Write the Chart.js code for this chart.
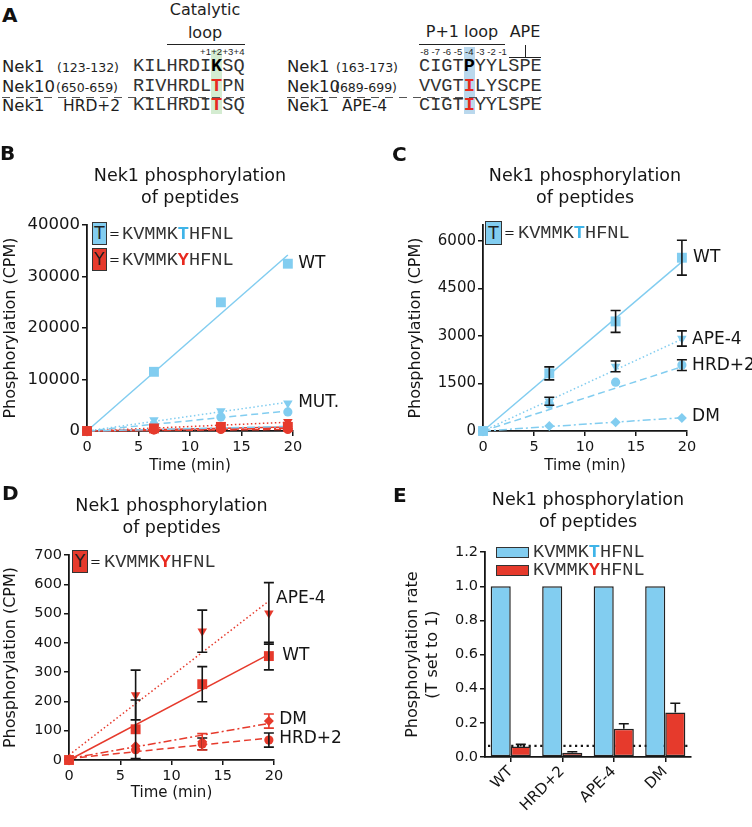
<!DOCTYPE html>
<html>
<head>
<meta charset="utf-8">
<script src="https://cdn.jsdelivr.net/npm/chart.js@4.4.1/dist/chart.umd.min.js"></script>
<style>
  html, body { margin: 0; padding: 0; background: #fff; }
  #page { position: relative; width: 752px; height: 827px; overflow: hidden;
          font-family: "DejaVu Sans", sans-serif; color: #1e1e1e; }
  #page canvas { position: absolute; }
  .t { position: absolute; white-space: nowrap; height: 24px; line-height: 24px; z-index: 2; }
  .c { transform: translateX(-50%); }
  .seq { font-family: "Liberation Mono", "Courier New", monospace; font-size: 18.6px; color: #333; }
  .seq b.k { color: #000; }
  .seq b.r { color: #e8291f; }
  .seq b.bl { color: #3fb4e8; }
  .tiny { font-family: "Liberation Sans", Arial, sans-serif; font-size: 9.5px; }
  .box { position: absolute; border: 1.2px solid #333; box-sizing: border-box; text-align: center;
         font-size: 17px; line-height: 21px; z-index: 2; }
  .rule { position: absolute; background: #222; z-index: 2; }
  .dash { position: absolute; height: 1.3px; z-index: 2;
          background: repeating-linear-gradient(to right, #555 0 8px, transparent 8px 14px); }
  .hl { position: absolute; z-index: 1; }
</style>
</head>
<body>
<div id="page">
  <canvas id="chartB" width="376" height="330" style="left:0;top:150px"></canvas>
  <canvas id="chartC" width="376" height="330" style="left:376px;top:150px"></canvas>
  <canvas id="chartD" width="376" height="347" style="left:0;top:480px"></canvas>
  <canvas id="chartE" width="376" height="347" style="left:376px;top:480px"></canvas>
</div>
<script>
// ---- data ----
const TIME = [0, 6.5, 13, 19.5];
const FIT_T = [0, 19.5];

// B: long run, T peptide (blue) vs Y peptide (red)
const B_TICKS = [0, 10000, 20000, 30000, 40000];
const B_T_WT = [0, 11500, 25000, 32500];
const B_T_APE4 = [0, 2150, 3900, 5400];
const B_T_HRD2 = [0, 1200, 2700, 3700];
const B_T_DM = [0, 300, 500, 900];
const B_Y_WT = [0, 500, 800, 800];
const B_Y_APE4 = [0, 700, 1200, 1800];
const B_Y_HRD2 = [0, 200, 300, 300];
const B_Y_DM = [0, 250, 400, 500];
const B_FIT_T = { WT: [0, 34200], APE4: [0, 5600], HRD2: [0, 3900], DM: [0, 900] };
const B_FIT_Y = { WT: [0, 800], APE4: [0, 1700], HRD2: [0, 300], DM: [0, 500] };

// C: T peptide
const C_TICKS = [0, 1500, 3000, 4500, 6000];
const C_WT = [0, 1820, 3460, 5470];
const C_WT_ERR = [0, 205, 345, 550];
const C_APE4 = [0, 940, 2040, 2920];
const C_APE4_ERR = [0, 125, 170, 240];
const C_HRD2 = [0, 850, 1540, 2080];
const C_HRD2_ERR = [0, 0, 0, 170];
const C_DM = [0, 160, 280, 410];
const C_FIT = { WT: [0, 5340], APE4: [0, 2900], HRD2: [0, 2030], DM: [0, 420] };

// D: Y peptide
const D_TICKS = [0, 100, 200, 300, 400, 500, 600, 700];
const D_WT = [0, 105, 259, 355];
const D_WT_ERR = [0, 100, 60, 47];
const D_APE4 = [0, 222, 440, 501];
const D_APE4_ERR = [0, 85, 72, 105];
const D_HRD2 = [0, 35, 55, 68];
const D_HRD2_ERR = [0, 0, 20, 24];
const D_DM = [0, 48, 62, 133];
const D_DM_ERR = [0, 0, 28, 24];
const D_FIT = { WT: [0, 361], APE4: [17, 543], HRD2: [5, 75], DM: [5, 125] };

// E: rates normalised to T
const E_CATS = ['WT', 'HRD+2', 'APE-4', 'DM'];
const E_T = [1, 1, 1, 1];
const E_Y = [0.062, 0.025, 0.165, 0.26];
const E_Y_ERR = [0.012, 0.006, 0.03, 0.055];
const E_BASELINE = 0.065;

const TITLE = ['Nek1 phosphorylation', 'of peptides'];
const FONT = '"DejaVu Sans", sans-serif';
const BLUE = '#82cdf0';
const RED = '#e63a2c';
const INK = '#151515';

// ---- html text (panel A, letters, peptide keys) ----
const page = document.getElementById('page');
const put = (html, x, cy, css = {}, cls = '') => {
  const d = document.createElement('div');
  d.className = 't ' + cls;
  d.innerHTML = html;
  d.style.left = x + 'px';
  d.style.top = (cy - 12) + 'px';
  Object.assign(d.style, css);
  page.appendChild(d);
  return d;
};
const rect = (cls, x, y, w, h, css = {}) => {
  const d = document.createElement('div');
  d.className = cls;
  Object.assign(d.style, { left: x + 'px', top: y + 'px', width: w + 'px', height: h + 'px' }, css);
  page.appendChild(d);
  return d;
};

const CH = 11.16;              // mono char pitch
const SEQ_L = 133, SEQ_R = 419;
const ROWS = [67, 87, 106];

// panel letters
[['A', 2, 15], ['B', 0, 153], ['C', 392, 154], ['D', 2, 493], ['E', 393, 495]].forEach(([l, x, y]) =>
  put(l, x, y, { fontSize: '20px', fontWeight: 'bold', color: '#111' }));

// column highlights
rect('hl', SEQ_L + 7 * CH, 50, CH, 64, { background: '#d4ecd1' });
rect('hl', SEQ_R + 4 * CH, 47, CH, 67, { background: '#bad8ed' });

// headers
put('Catalytic', 205, 10, { fontSize: '16px' }, 'c');
put('loop', 205, 33, { fontSize: '16px' }, 'c');
rect('rule', 167, 44, 78, 1);
['+1', '+2', '+3', '+4'].forEach((s, i) => put(s, SEQ_L + (i + 6.5) * CH, 52, {}, 'c tiny'));
put('P+1 loop', 462, 32, { fontSize: '16px' }, 'c');
rect('rule', 419, 44, 86, 1);
put('APE', 525, 32, { fontSize: '16px' }, 'c');
rect('rule', 525, 45, 1, 12);
rect('rule', 509, 57, 32, 1);
['-8', '-7', '-6', '-5', '-4', '-3', '-2', '-1'].forEach((s, i) => put(s, SEQ_R + (i + 0.5) * CH, 52, {}, 'c tiny'));

// alignment rows
const nameCss = { fontSize: '16.5px' };
const rngCss = { fontSize: '12.5px' };
put('Nek1', 2, ROWS[0], nameCss);
put('(123-132)', 57, ROWS[0] + 1, rngCss);
put('KILHRDI<b class="k">K</b>SQ', SEQ_L, ROWS[0], {}, 'seq');
put('Nek10', 2, ROWS[1], nameCss);
put('(650-659)', 56, ROWS[1] + 1, rngCss);
put('RIVHRDL<b class="r">T</b>PN', SEQ_L, ROWS[1], {}, 'seq');
put('Nek1', 2, ROWS[2], nameCss);
put('HRD+2', 63, ROWS[2], { fontSize: '15.5px' });
put('KILHRDI<b class="r">T</b>SQ', SEQ_L, ROWS[2], {}, 'seq');

put('Nek1', 287, ROWS[0], nameCss);
put('(163-173)', 336, ROWS[0] + 1, rngCss);
put('CIGT<b class="k">P</b>YYLSPE', SEQ_R, ROWS[0], {}, 'seq');
put('Nek10', 287, ROWS[1], nameCss);
put('(689-699)', 335, ROWS[1] + 1, rngCss);
put('VVGT<b class="r">I</b>LYSCPE', SEQ_R, ROWS[1], {}, 'seq');
put('Nek1', 287, ROWS[2], nameCss);
put('APE-4', 342, ROWS[2], { fontSize: '15.5px' });
put('CIGT<b class="r">I</b>YYLSPE', SEQ_R, ROWS[2], {}, 'seq');

rect('dash', 2, 97, 243, 1.3);
rect('dash', 287, 97, 255, 1.3);

// peptide keys
const SEQ_T = 'KVMMK<b class="bl">T</b>HFNL';
const SEQ_Y = 'KVMMK<b class="r">Y</b>HFNL';
const key = (x, y, w, h, fill, letter, seq, seqX) => {
  const b = rect('box', x, y, w, h, { background: fill, lineHeight: (h - 2) + 'px' });
  b.textContent = letter;
  put('=', x + w + 2, y + h / 2, { fontSize: '13px' });
  put(seq, seqX, y + h / 2 + 1, {}, 'seq');
};
key(92, 222, 15, 23, BLUE, 'T', SEQ_T, 122);
key(92, 248, 15, 23, RED, 'Y', SEQ_Y, 122);
key(485, 221, 17, 24, BLUE, 'T', SEQ_T, 518);
key(72, 550, 16, 23, RED, 'Y', SEQ_Y, 104);
rect('box', 496, 547, 33, 11, { background: BLUE });
put(SEQ_T, 533, 553, {}, 'seq');
rect('box', 496, 565, 33, 11, { background: RED });
put(SEQ_Y, 533, 571, {}, 'seq');

// ---- chart plugins ----
const errorBars = {
  id: 'errorBars',
  afterDatasetsDraw(chart) {
    const { ctx } = chart;
    const y = chart.scales.y;
    chart.data.datasets.forEach((ds, di) => {
      if (!ds.errors) return;
      const meta = chart.getDatasetMeta(di);
      ctx.save();
      ctx.strokeStyle = ds.errorColor || INK;
      ctx.lineWidth = 1.6;
      meta.data.forEach((el, i) => {
        const e = ds.errors[i];
        if (!e) return;
        const raw = ds.data[i];
        const v = typeof raw === 'object' ? raw.y : raw;
        const top = y.getPixelForValue(v + e);
        const bot = ds.errorUpOnly ? el.y : y.getPixelForValue(v - e);
        ctx.beginPath();
        ctx.moveTo(el.x, top); ctx.lineTo(el.x, bot);
        ctx.moveTo(el.x - 5, top); ctx.lineTo(el.x + 5, top);
        if (!ds.errorUpOnly) { ctx.moveTo(el.x - 5, bot); ctx.lineTo(el.x + 5, bot); }
        ctx.stroke();
      });
      ctx.restore();
    });
  }
};

const seriesLabels = {
  id: 'seriesLabels',
  afterDraw(chart, args, opts) {
    if (!opts.items) return;
    const { ctx, scales: { x, y } } = chart;
    ctx.save();
    ctx.font = '17px ' + FONT;
    ctx.fillStyle = INK;
    ctx.textBaseline = 'middle';
    opts.items.forEach(it => ctx.fillText(it.text, x.getPixelForValue(it.x), y.getPixelForValue(it.y)));
    ctx.restore();
  }
};

const baseline = {
  id: 'baseline',
  beforeDatasetsDraw(chart, args, opts) {
    if (opts.value == null) return;
    const { ctx, chartArea: a, scales: { y } } = chart;
    const py = y.getPixelForValue(opts.value);
    ctx.save();
    ctx.setLineDash([2.2, 3.6]);
    ctx.lineWidth = 2.4;
    ctx.strokeStyle = INK;
    ctx.beginPath();
    ctx.moveTo(a.left + 3, py);
    ctx.lineTo(a.right, py);
    ctx.stroke();
    ctx.restore();
  }
};

// ---- helpers for B/C/D ----
const STYLE = {
  WT:   { marker: 'rect', r: 7, rot: 0, dash: [] },
  APE4: { marker: 'triangle', r: 5.5, rot: 180, dash: [1.5, 2.5] },
  HRD2: { marker: 'circle', r: 4.6, rot: 0, dash: [7, 4] },
  DM:   { marker: 'rectRot', r: 5, rot: 0, dash: [8, 3, 2, 3] }
};

const buildSets = (list) => {
  const sets = [];
  list.forEach(s => {
    const st = STYLE[s.kind];
    sets.push({
      data: FIT_T.map((t, i) => ({ x: t, y: s.fit[i] })),
      showLine: true, borderColor: s.color, borderWidth: 1.5, borderDash: st.dash,
      pointRadius: 0, clip: false, order: 3
    });
  });
  list.forEach(s => {
    const st = STYLE[s.kind];
    sets.push({
      data: TIME.map((t, i) => ({ x: t, y: s.vals[i] })),
      showLine: false, pointStyle: st.marker, rotation: st.rot, pointRadius: st.r,
      backgroundColor: s.color, borderColor: s.color, pointBorderWidth: 0,
      errors: s.err, errorColor: s.errColor, clip: false, order: s.order || 1
    });
  });
  return sets;
};

const axisGrid = { display: true, drawOnChartArea: false, drawTicks: true, tickLength: 5, color: INK, lineWidth: 1.5 };
const axisBorder = { display: true, color: INK, width: 1.8 };

const lineChart = (id, o) => new Chart(document.getElementById(id), {
  type: 'scatter',
  data: { datasets: o.datasets },
  options: {
    responsive: false, animation: false, events: [],
    layout: { padding: { left: 0, right: o.padRight, top: 0, bottom: 0 } },
    plugins: {
      legend: { display: false }, tooltip: { enabled: false },
      title: { display: true, fullSize: false, text: TITLE, color: INK,
               font: { family: FONT, size: 17.5, weight: 'normal', lineHeight: 1.26 },
               padding: { top: o.titleTop, bottom: o.titleBottom } },
      seriesLabels: { items: o.labels }
    },
    scales: {
      x: {
        type: 'linear', min: 0, max: 20,
        ticks: { stepSize: 5, color: INK, font: { family: FONT, size: 14.5 }, padding: 3 },
        grid: axisGrid, border: axisBorder,
        title: { display: true, text: 'Time (min)', color: INK, font: { family: FONT, size: 15 },
                 padding: { top: 0, bottom: o.xTitleBottom } },
        afterFit: s => { s.height = o.xHeight; }
      },
      y: {
        min: 0, max: o.yMax,
        ticks: { color: INK, font: { family: FONT, size: o.yTickSize }, padding: 2,
                 callback: v => String(v) },
        grid: axisGrid, border: axisBorder,
        title: { display: true, text: 'Phosphorylation (CPM)', color: INK, font: { family: FONT, size: 16 },
                 padding: { top: o.yTitleTop, bottom: 0 } },
        afterBuildTicks: s => { s.ticks = o.yTicks.map(v => ({ value: v })); },
        afterFit: s => { s.width = o.yWidth; }
      }
    }
  },
  plugins: [errorBars, seriesLabels]
});

// ---- B ----
lineChart('chartB', {
  datasets: buildSets([
    { kind: 'WT', vals: B_T_WT, fit: B_FIT_T.WT, color: BLUE, order: 2 },
    { kind: 'APE4', vals: B_T_APE4, fit: B_FIT_T.APE4, color: BLUE, order: 2 },
    { kind: 'HRD2', vals: B_T_HRD2, fit: B_FIT_T.HRD2, color: BLUE, order: 2 },
    { kind: 'DM', vals: B_T_DM, fit: B_FIT_T.DM, color: BLUE, order: 2 },
    { kind: 'WT', vals: B_Y_WT, fit: B_FIT_Y.WT, color: RED, order: 0 },
    { kind: 'APE4', vals: B_Y_APE4, fit: B_FIT_Y.APE4, color: RED, order: 0 },
    { kind: 'HRD2', vals: B_Y_HRD2, fit: B_FIT_Y.HRD2, color: RED, order: 0 },
    { kind: 'DM', vals: B_Y_DM, fit: B_FIT_Y.DM, color: RED, order: 0 }
  ]),
  labels: [{ text: 'WT', x: 20.5, y: 32600 }, { text: 'MUT.', x: 20.5, y: 5440 }],
  yMax: 40000, yTicks: B_TICKS, yTickSize: 16.5,
  padRight: 83, yWidth: 87, xHeight: 49,
  titleTop: 15, titleBottom: 16, xTitleBottom: 5, yTitleTop: 1
});

// ---- C ----
lineChart('chartC', {
  datasets: buildSets([
    { kind: 'WT', vals: C_WT, err: C_WT_ERR, fit: C_FIT.WT, color: BLUE },
    { kind: 'APE4', vals: C_APE4, err: C_APE4_ERR, fit: C_FIT.APE4, color: BLUE },
    { kind: 'HRD2', vals: C_HRD2, err: C_HRD2_ERR, fit: C_FIT.HRD2, color: BLUE },
    { kind: 'DM', vals: C_DM, fit: C_FIT.DM, color: BLUE }
  ]),
  labels: [
    { text: 'WT', x: 20.6, y: 5460 }, { text: 'APE-4', x: 20.5, y: 2900 },
    { text: 'HRD+2', x: 20.5, y: 2080 }, { text: 'DM', x: 20.5, y: 440 }
  ],
  yMax: 6500, yTicks: C_TICKS, yTickSize: 15,
  padRight: 65, yWidth: 107, xHeight: 49,
  titleTop: 15, titleBottom: 16, xTitleBottom: 5, yTitleTop: 30
});

// ---- D ----
lineChart('chartD', {
  datasets: buildSets([
    { kind: 'WT', vals: D_WT, err: D_WT_ERR, fit: D_FIT.WT, color: RED },
    { kind: 'APE4', vals: D_APE4, err: D_APE4_ERR, fit: D_FIT.APE4, color: RED },
    { kind: 'HRD2', vals: D_HRD2, err: D_HRD2_ERR, fit: D_FIT.HRD2, color: RED },
    { kind: 'DM', vals: D_DM, err: D_DM_ERR, errColor: RED, fit: D_FIT.DM, color: RED }
  ]),
  labels: [
    { text: 'APE-4', x: 20.2, y: 553 }, { text: 'WT', x: 20.8, y: 358 },
    { text: 'DM', x: 20.5, y: 137 }, { text: 'HRD+2', x: 20.5, y: 72 }
  ],
  yMax: 700, yTicks: D_TICKS, yTickSize: 14.5,
  padRight: 102, yWidth: 69, xHeight: 67,
  titleTop: 15, titleBottom: 16, xTitleBottom: 25, yTitleTop: 1
});

// ---- E ----
new Chart(document.getElementById('chartE'), {
  type: 'bar',
  data: {
    labels: E_CATS,
    datasets: [
      { data: E_T, backgroundColor: BLUE, borderColor: '#222', borderWidth: 1.5,
        borderSkipped: false, categoryPercentage: 0.78, barPercentage: 1 },
      { data: E_Y, errors: E_Y_ERR, errorUpOnly: true, backgroundColor: RED, borderColor: '#222',
        borderWidth: 1.5, borderSkipped: false, categoryPercentage: 0.78, barPercentage: 1 }
    ]
  },
  options: {
    responsive: false, animation: false, events: [],
    layout: { padding: { left: 0, right: 61, top: 0, bottom: 0 } },
    plugins: {
      legend: { display: false }, tooltip: { enabled: false },
      title: { display: true, fullSize: false, text: TITLE, color: INK,
               font: { family: FONT, size: 17.5, weight: 'normal', lineHeight: 1.26 },
               padding: { top: 9, bottom: 19 } },
      baseline: { value: E_BASELINE }
    },
    scales: {
      x: {
        grid: Object.assign({}, axisGrid, { offset: false }), border: axisBorder,
        ticks: { minRotation: 45, maxRotation: 45, color: INK, font: { family: FONT, size: 15 }, padding: 1 },
        afterFit: s => { s.height = 70; }
      },
      y: {
        min: 0, max: 1.2,
        ticks: { stepSize: 0.2, color: INK, font: { family: FONT, size: 14.5 }, padding: 2,
                 callback: v => Number(v).toFixed(1) },
        grid: axisGrid, border: axisBorder,
        title: { display: true, text: ['Phosphorylation rate', '(T set to 1)'], color: INK,
                 font: { family: FONT, size: 16, lineHeight: 1.25 }, padding: { top: 27, bottom: 0 } },
        afterFit: s => { s.width = 109; }
      }
    }
  },
  plugins: [errorBars, baseline]
});
</script>
</body>
</html>
